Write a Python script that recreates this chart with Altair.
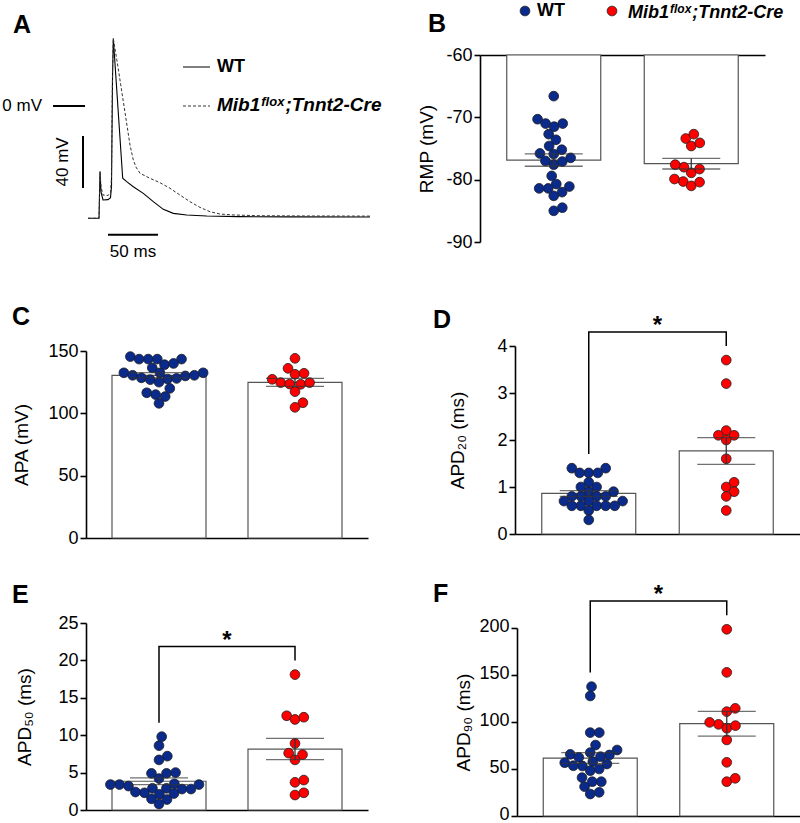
import math
import altair as alt
import pandas as pd

FONT = "Liberation Sans"
NAVY = "#0a2a8c"
RED = "#ff0000"
GROUPS = ["WT", "Mib1flox;Tnnt2-Cre"]
W, H = 800, 823

# ---- measurements (one value per cell) ----
rmp_wt = [-66.6, -70.3, -71.0, -71.5, -71.0, -72.7, -73.6, -74.6, -75.2, -75.9, -75.8, -76.5,
          -77.0, -77.1, -77.6, -79.4, -80.7, -81.4, -81.1, -81.4, -82.0, -82.6, -84.5, -85.0]
rmp_mib = [-73.4, -74.6, -74.1, -72.7, -78.9, -78.0, -78.3, -77.6, -80.3, -81.0, -80.4, -79.9]

apa_wt = [143.5, 143.5, 145.5, 143.5, 143.5, 139.0, 140.0, 136.5, 132.5, 132.5, 132.5, 130.5,
          128.5, 127.5, 130.0, 130.5, 128.0, 127.0, 125.0, 120.0, 115.0, 113.5, 116.5, 108.0]
apa_mib = [144.1, 136.1, 131.3, 132.1, 127.3, 124.6, 123.3, 123.5, 124.6, 117.4, 108.5, 104.8]

apd20_wt = [1.3, 1.4, 1.4, 1.3, 1.3, 1.1, 1.0, 1.0, 0.9, 0.9, 0.8, 0.8,
            0.8, 0.8, 0.7, 0.7, 0.7, 0.6, 0.6, 0.6, 0.6, 0.6, 0.5, 0.3]
apd20_mib = [3.7, 3.2, 2.2, 2.1, 2.0, 2.1, 1.6, 1.0, 1.1, 0.9, 0.8, 0.5]

apd50_wt = [9.8, 8.6, 7.2, 6.7, 5.0, 4.9, 4.9, 4.2, 3.4, 3.4, 3.4, 3.5,
            3.2, 2.9, 2.8, 2.8, 2.9, 2.3, 2.1, 2.2, 2.4, 1.5, 1.4, 0.8]
apd50_mib = [18.1, 12.6, 12.1, 12.4, 8.9, 7.6, 7.4, 6.7, 3.7, 4.0, 2.0, 2.3]

apd90_wt = [137.6, 127.7, 88.7, 88.7, 75.5, 67.4, 70.2, 64.9, 65.6, 62.4, 63.1, 55.3,
            53.2, 56.7, 57.8, 48.2, 50.0, 53.5, 40.8, 36.5, 36.5, 31.2, 25.2, 23.4]
apd90_mib = [198.6, 152.8, 111.0, 114.5, 97.5, 93.3, 96.1, 99.6, 80.9, 57.1, 36.5, 40.1]

# ---- representative action potential traces (time ms, membrane potential mV) ----
trace_t_wt = [0, 11, 12, 13, 15, 20, 22.5, 23.5, 24.5, 25.3, 34.7, 38.7, 45.3, 55.3,
              65.3, 75.3, 85.3, 98.7, 118.7, 150, 200, 282]
trace_mv_wt = [-86.4, -86.4, -50.5, -66.0, -72.3, -72.0, -70.5, -62.0, 20.0, 52.0, -55.6, -58.2,
               -62.1, -67.2, -73.6, -79.5, -82.6, -83.8, -84.6, -85.1, -85.3, -85.4]
trace_t_mib = [0, 11, 12, 13, 15, 20, 22.5, 23.5, 24.5, 25.3, 30, 36, 42, 45.3, 48, 52, 62,
               72, 82, 92, 102, 112, 122, 132, 145, 170, 220, 282]
trace_mv_mib = [-86.4, -86.4, -50.5, -62.0, -68.5, -68.8, -67.0, -55.0, 25.0, 52.0, 30.0, 0.0,
                -30.0, -41.5, -47.0, -51.8, -55.6, -59.0, -63.3, -68.5, -73.6, -78.0, -81.3,
                -83.1, -83.8, -84.4, -84.6, -84.7]

# scale bars of the trace panel: 0 mV marker, 40 mV and 50 ms calibration
bar_t1 = [-35, -5, 20]
bar_t2 = [-3, -5, 70]
bar_mv1 = [0, -63, -99]
bar_mv2 = [0, -23, -99]

DOT = 95
DOT_D = 9.4
FILL = alt.Scale(domain=GROUPS, range=[NAVY, RED])


def text_width(s, size):
    w = {"M": .833, "i": .278, "b": .611, "1": .556, "f": .333, "l": .278, "o": .611,
         "x": .556, ";": .333, "T": .611, "n": .611, "t": .333, "2": .556, "-": .333,
         "C": .722, "r": .389, "e": .556, "W": .944}
    return sum(w.get(c, .6) for c in s) * size


def one(**cols):
    return pd.DataFrame({k: [v] for k, v in cols.items()})


def label_text(x, y, s, size=25):
    return alt.Chart(one(s=s)).mark_text(
        font=FONT, fontSize=size, fontWeight="bold", align="left", baseline="alphabetic",
        color="black").encode(x=alt.value(x), y=alt.value(y), text="s:N")


def genotype_label(x, y, size, raise_px=5):
    """Bold italic genotype name with a superscript allele; y is the text baseline."""
    parts = [("Mib1", size, 0), ("flox", round(size * 0.68), -raise_px),
             (";Tnnt2-Cre", size, 0)]
    layers = []
    cx = x
    for s, fs, dy in parts:
        layers.append(alt.Chart(one(s=s)).mark_text(
            font=FONT, fontSize=fs, fontWeight="bold", fontStyle="italic",
            align="left", baseline="alphabetic", color="black", dy=dy
        ).encode(x=alt.value(cx), y=alt.value(y), text="s:N"))
        cx += text_width(s, fs) + 1
    return layers


def swarm(vals, ppu, d=DOT_D):
    """Beeswarm offsets (pixels) so that dots of diameter d do not overlap."""
    order = sorted(range(len(vals)), key=lambda i: vals[i])
    placed = []
    offs = [0.0] * len(vals)
    for i in order:
        y = vals[i] * ppu
        cands = [0.0]
        for px, py in placed:
            dy = abs(py - y)
            if dy < d:
                dx = math.sqrt(d * d - dy * dy)
                cands += [px + dx, px - dx]
        cands.sort(key=lambda c: (abs(c), -c))
        best = 0.0
        for c in cands:
            if all((c - px) ** 2 + (y - py) ** 2 >= d * d - 1e-6 for px, py in placed):
                best = c
                break
        placed.append((best, y))
        offs[i] = best
    return offs


def bar_panel(wt, mib, *, xpx, ypx, ticks, title, title_dx, letter, letter_xy,
              top_axis=False, bracket=False, label_offset=0):
    lo, hi = ticks[0], ticks[-1]
    ppu = (ypx[0] - ypx[1]) / (hi - lo)
    base = hi if top_axis else lo
    yscale = alt.Scale(domain=[lo, hi], range=list(ypx), nice=False, zero=False)
    xscale = alt.Scale(domain=[-0.5, 1.5], range=list(xpx), nice=False, zero=False)
    unit_per_px = 2.0 / (xpx[1] - xpx[0])

    rows, stats = [], []
    for g, vals in enumerate([wt, mib]):
        offs = swarm(vals, ppu)
        for v, o in zip(vals, offs):
            rows.append({"g": g, "grp": GROUPS[g], "value": v, "xpos": g + o * unit_per_px})
        n = len(vals)
        m = sum(vals) / n
        sd = math.sqrt(sum((v - m) ** 2 for v in vals) / (n - 1))
        se = sd / math.sqrt(n)
        stats.append({"g": g, "mean": m, "lo": m - se, "hi": m + se, "base": base})
    pts = pd.DataFrame(rows)
    st = pd.DataFrame(stats)

    yaxis = alt.Axis(orient="left", offset=-xpx[0], values=ticks, title=title, grid=False,
                     domain=True, domainColor="black", domainWidth=1.6,
                     ticks=True, tickSize=6, tickWidth=1.6, tickColor="black",
                     labelFont=FONT, labelFontSize=18, labelColor="black", labelPadding=2,
                     labelOffset=label_offset,
                     labelExpr="toString(datum.value)", labelFlush=False, labelOverlap=False,
                     titleFont=FONT, titleFontSize=19, titleFontWeight="normal",
                     titleColor="black", titleAngle=270, titleAlign="center",
                     titleBaseline="middle", titleX=-title_dx,
                     titleY=(ypx[0] + ypx[1]) / 2)
    if top_axis:
        xaxis = alt.Axis(orient="top", offset=-ypx[1], labels=False, ticks=False,
                         title=None, grid=False, domain=True, domainColor="black",
                         domainWidth=1.6)
    else:
        xaxis = alt.Axis(orient="bottom", offset=-(H - ypx[0]), labels=False, ticks=False,
                         title=None, grid=False, domain=True, domainColor="black",
                         domainWidth=1.6)

    bars = alt.Chart(st).mark_bar(width=94, fill="white", stroke="#555555",
                                  strokeWidth=1.2).encode(
        x=alt.X("g:Q", scale=xscale, axis=xaxis),
        y=alt.Y("mean:Q", scale=yscale, axis=yaxis), y2="base:Q")
    dots = alt.Chart(pts).mark_circle(size=DOT, opacity=1, stroke="#1e1e1e",
                                      strokeWidth=0.8).encode(
        x=alt.X("xpos:Q", scale=xscale),
        y=alt.Y("value:Q", scale=yscale),
        fill=alt.Fill("grp:N", scale=FILL, legend=None))
    err = alt.Chart(st).mark_rule(color="#333333", strokeWidth=1.3).encode(
        x=alt.X("g:Q", scale=xscale), y=alt.Y("lo:Q", scale=yscale), y2="hi:Q")
    caps = [alt.Chart(st).mark_tick(orient="horizontal", size=58, thickness=1.3,
                                    color="#333333").encode(
        x=alt.X("g:Q", scale=xscale), y=alt.Y(f"{end}:Q", scale=yscale))
        for end in ("lo", "hi")]

    layers = [bars, dots, err, *caps, label_text(letter_xy[0], letter_xy[1], letter)]

    if bracket:
        span = hi - lo
        top = max(max(wt), max(mib)) + 0.15 * span
        br = pd.DataFrame({
            "bx": [0, 0, 1, 1],
            "by": [max(wt) + 0.075 * span, top, top, max(mib) + 0.075 * span],
            "o": [0, 1, 2, 3]})
        layers.append(alt.Chart(br).mark_line(color="black", strokeWidth=1.5).encode(
            x=alt.X("bx:Q", scale=xscale), y=alt.Y("by:Q", scale=yscale), order="o:Q"))
        layers.append(alt.Chart(one(sx=0.5, sy=top, s="*")).mark_text(
            font=FONT, fontSize=24, fontWeight="bold", baseline="alphabetic", dy=1,
            color="black").encode(
            x=alt.X("sx:Q", scale=xscale), y=alt.Y("sy:Q", scale=yscale), text="s:N"))
    return alt.layer(*layers)


# ---- panel A: action potential traces ----
ax = alt.Scale(domain=[0, 282], range=[88, 370], nice=False, zero=False)
ay = alt.Scale(domain=[-86, 52], range=[106 + 1.3 * 86, 106 - 1.3 * 52], nice=False,
               zero=False)
AX = dict(scale=ax, axis=None)
AY = dict(scale=ay, axis=None)

wt_line = alt.Chart(pd.DataFrame({"t": trace_t_wt, "mv": trace_mv_wt})).mark_line(
    color="black", strokeWidth=1.1).encode(x=alt.X("t:Q", **AX), y=alt.Y("mv:Q", **AY))
mib_line = alt.Chart(pd.DataFrame({"t": trace_t_mib, "mv": trace_mv_mib})).mark_line(
    color="#333333", strokeWidth=1.0, strokeDash=[3, 2]).encode(
    x=alt.X("t:Q", **AX), y=alt.Y("mv:Q", **AY))
calib = alt.Chart(pd.DataFrame({"t1": bar_t1, "t2": bar_t2, "m1": bar_mv1, "m2": bar_mv2})
                  ).mark_rule(color="black", strokeWidth=2).encode(
    x=alt.X("t1:Q", **AX), x2="t2:Q", y=alt.Y("m1:Q", **AY), y2="m2:Q")


def trace_text(t, mv, s, **kw):
    return alt.Chart(one(t=t, mv=mv, s=s)).mark_text(
        font=FONT, fontSize=17, color="black", baseline="middle", **kw).encode(
        x=alt.X("t:Q", **AX), y=alt.Y("mv:Q", **AY), text="s:N")


legend_a = [
    alt.Chart(one(k=0)).mark_rule(color="black", strokeWidth=1).encode(
        x=alt.value(183), x2=alt.value(210), y=alt.value(67)),
    alt.Chart(one(k=0)).mark_rule(color="#333333", strokeWidth=1,
                                  strokeDash=[3, 2]).encode(
        x=alt.value(183), x2=alt.value(210), y=alt.value(106)),
    alt.Chart(one(s="WT")).mark_text(
        font=FONT, fontSize=18, fontWeight="bold", align="left", baseline="middle",
        color="black").encode(x=alt.value(217), y=alt.value(67), text="s:N"),
] + genotype_label(217, 111, 19)

panel_a = alt.layer(
    wt_line, mib_line, calib,
    trace_text(-46, 0, "0 mV", align="right"),
    trace_text(-25, -43, "40 mV", align="center", angle=270),
    trace_text(45, -112, "50 ms", align="center"),
    label_text(13, 33, "A"),
    *legend_a,
)

# ---- shared group legend above panel B ----
legend_b = alt.layer(
    alt.Chart(pd.DataFrame({"grp": GROUPS, "lx": [525, 612]})).mark_circle(
        size=DOT, opacity=1, stroke="#1e1e1e", strokeWidth=0.8).encode(
        x=alt.X("lx:Q", scale=alt.Scale(domain=[0, W], range=[0, W]), axis=None),
        y=alt.value(11),
        fill=alt.Fill("grp:N", scale=FILL, legend=None)),
    alt.Chart(one(s="WT")).mark_text(
        font=FONT, fontSize=18, fontWeight="bold", align="left", baseline="middle",
        color="black").encode(x=alt.value(537), y=alt.value(11), text="s:N"),
    *genotype_label(628, 17.5, 18, raise_px=4.5),
)

panel_b = bar_panel(rmp_wt, rmp_mib, xpx=(480, 765), ypx=(242, 55),
                    ticks=[-90, -80, -70, -60], title="RMP (mV)", title_dx=54,
                    letter="B", letter_xy=(428, 32), top_axis=True)
panel_c = bar_panel(apa_wt, apa_mib, xpx=(86, 368), ypx=(538, 351),
                    ticks=[0, 50, 100, 150], title="APA (mV)", title_dx=65,
                    letter="C", letter_xy=(12, 325))
panel_d = bar_panel(apd20_wt, apd20_mib, xpx=(515, 800), ypx=(534, 346),
                    ticks=[0, 1, 2, 3, 4], title="APD₂₀ (ms)", title_dx=58,
                    letter="D", letter_xy=(433, 328), bracket=True)
panel_e = bar_panel(apd50_wt, apd50_mib, xpx=(86, 368), ypx=(810, 623),
                    ticks=[0, 5, 10, 15, 20, 25], title="APD₅₀ (ms)", title_dx=62,
                    letter="E", letter_xy=(12, 603), bracket=True)
panel_f = bar_panel(apd90_wt, apd90_mib, xpx=(517, 800), ypx=(816, 628),
                    ticks=[0, 50, 100, 150, 200], title="APD₉₀ (ms)", title_dx=54,
                    letter="F", letter_xy=(433, 602), bracket=True, label_offset=-2)

chart = alt.layer(
    panel_a, legend_b, panel_b, panel_c, panel_d, panel_e, panel_f
).resolve_scale(
    x="independent", y="independent"
).properties(
    width=W, height=H, padding=0, background="white",
    autosize=alt.AutoSizeParams(type="none"),
).configure_view(stroke=None)

chart.save("out.html", embed_options={"renderer": "svg", "actions": False})
